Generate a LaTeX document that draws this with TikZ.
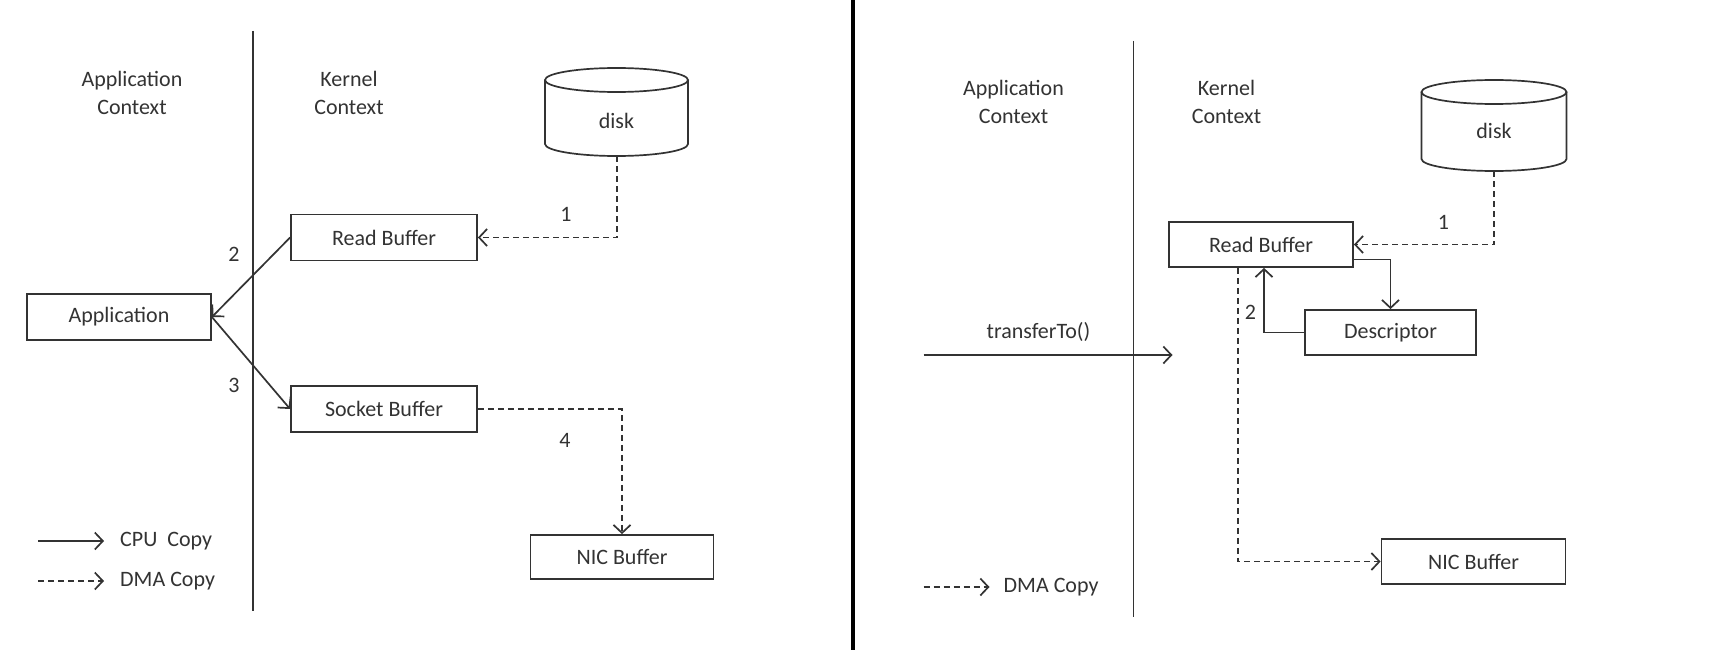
\documentclass[tikz,border=0pt]{standalone}
\usepackage{fontspec}
\setmainfont{Carlito}
\usetikzlibrary{arrows.meta}
\definecolor{ink}{HTML}{333333}
\begin{document}
\begin{tikzpicture}[x=1pt,y=-1pt,
  txt/.style={font=\fontsize{22}{28}\selectfont, text=ink, inner sep=0pt},
  buf/.style={txt, draw=ink, line width=1.8pt, minimum height=46pt},
  tipv/.style={-{Straight Barb[length=8pt,width=17pt,line width=1.7pt]}},
  cpu/.style={draw=ink, line width=1.7pt, tipv},
  dma/.style={draw=ink, line width=1.7pt, dash pattern=on 6pt off 4pt, tipv},
  sep/.style={draw=ink, line width=1.7pt},
  cyl/.style={draw=ink, line width=1.7pt}]
\useasboundingbox (0,0) rectangle (1715,650);
\fill[white] (0,0) rectangle (1715,650);

% ---------- separator ----------
\draw[draw=black, line width=4pt] (853,0) -- (853,650);

% ---------- left panel ----------
\draw[sep] (253,31) -- (253,611);
\node[txt, align=center] (appctx1) at (132,93) {Application\\Context};
\node[txt, align=center] (kerctx1) at (349,93) {Kernel\\Context};

% disk
\draw[cyl] (545,80) -- (545,144) arc[start angle=180,end angle=0,x radius=71.5,y radius=12] -- (688,80);
\draw[cyl] (616.5,80) ellipse[x radius=71.5,y radius=12];
\node[txt] (disk1) at (616.5,121) {disk};
\coordinate (disk1b) at (617,156);

\node[buf, minimum width=186pt] (rb1) at (384,237.5) {Read Buffer};
\node[buf, minimum width=184pt] (app) at (119,317) {Application};
\node[buf, minimum width=186pt] (sb1) at (384,409) {Socket Buffer};
\node[buf, minimum width=183pt, minimum height=44pt] (nic1) at (622,557) {NIC Buffer};

\draw[dma] (disk1b) |- (rb1.east);
\node[txt] (l1a) at (566,214) {1};
\draw[cpu] (rb1.west) -- (app.east);
\node[txt] (l2a) at (234,254) {2};
\draw[cpu] (app.east) -- (sb1.west);
\node[txt] (l3a) at (234,385) {3};
\draw[dma] (sb1.east) -| (nic1.north);
\node[txt] (l4a) at (565,440) {4};

% legend
\coordinate (lc1) at (38,541);
\coordinate (lc2) at (104,541);
\draw[cpu] (lc1) -- (lc2);
\node[txt, anchor=west] (lcpu) at (120,541) {CPU~ Copy};
\coordinate (ld1) at (38,581);
\coordinate (ld2) at (104,581);
\draw[dma] (ld1) -- (ld2);
\node[txt, anchor=west] (ldma) at (120,581) {DMA Copy};

% ---------- right panel ----------
\begin{scope}[xshift=-6.5pt]
\draw[sep] (1140,41) -- (1140,617);
\node[txt, align=center] (appctx2) at (1020,102) {Application\\Context};
\node[txt, align=center] (kerctx2) at (1233,102) {Kernel\\Context};

\draw[cyl] (1428,92) -- (1428,159) arc[start angle=180,end angle=0,x radius=72.5,y radius=12] -- (1573,92);
\draw[cyl] (1500.5,92) ellipse[x radius=72.5,y radius=12];
\node[txt] (disk2) at (1500.5,131) {disk};
\coordinate (disk2b) at (1500.5,171);

\node[buf, minimum width=184pt, minimum height=45pt] (rb2) at (1267.5,244.5) {Read Buffer};
\node[buf, minimum width=171pt, minimum height=45pt] (desc) at (1397,332.5) {Descriptor};
\node[buf, minimum width=184pt, minimum height=45pt] (nic2) at (1480,561.5) {NIC Buffer};

\draw[dma] (disk2b) |- (rb2.east);
\node[txt] (l1b) at (1450,222) {1};
\draw[cpu] ([yshift=-15pt]rb2.east) -| (desc.north);
\draw[cpu] (desc.west) -| ([xshift=3pt]rb2.south);
\node[txt] (l2b) at (1257,312) {2};
\draw[dma] ([xshift=-23pt]rb2.south) |- (nic2.west);

\coordinate (ts) at (930,355);
\coordinate (te) at (1179,355);
\draw[cpu] (ts) -- (te);
\node[txt] (tt) at (1045,332) {transferTo()};

\coordinate (rd1) at (930,587);
\coordinate (rd2) at (996,587);
\draw[dma] (rd1) -- (rd2);
\node[txt, anchor=west] (rdma) at (1010,587) {DMA Copy};
\end{scope}
\end{tikzpicture}
\end{document}
